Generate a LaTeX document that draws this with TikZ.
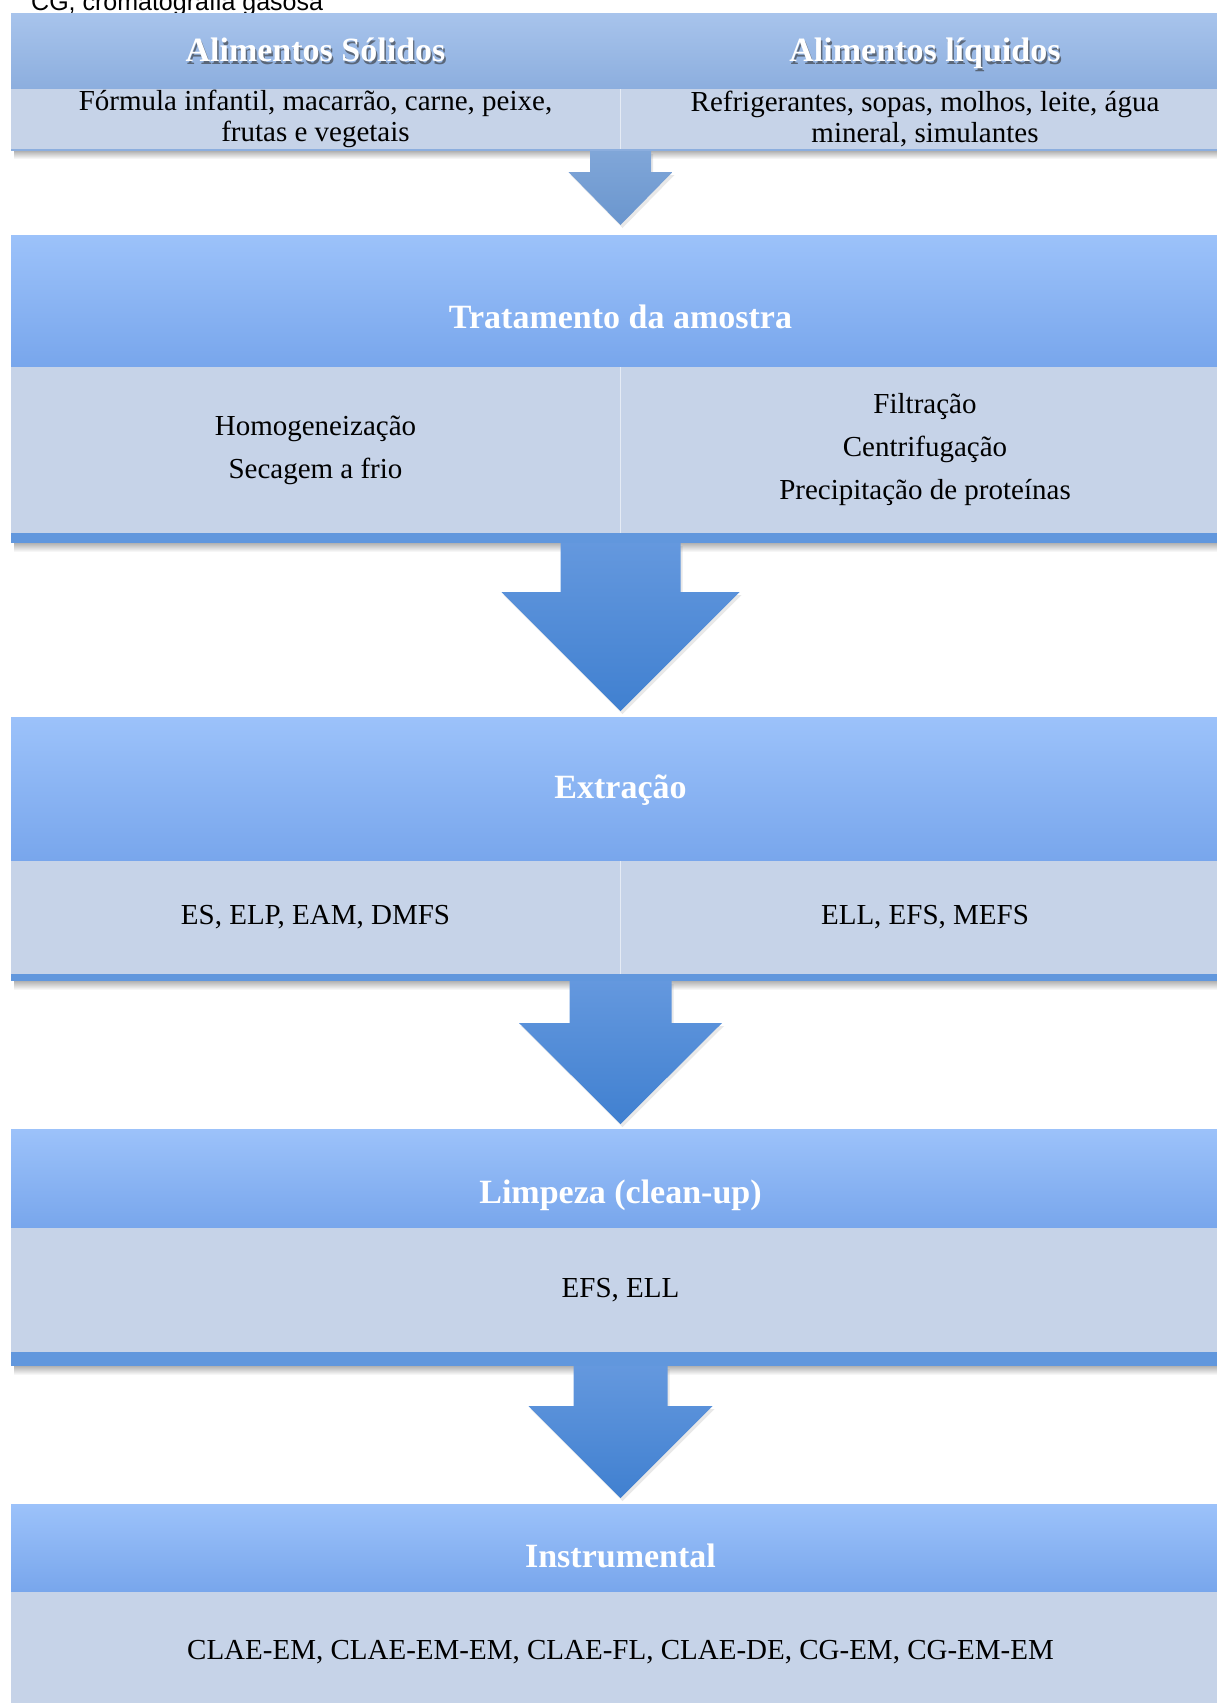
\documentclass[tikz,border=0pt]{standalone}
\usepackage{fontspec}
\setmainfont{Liberation Serif}
\newfontfamily\capfont{Liberation Sans}
\usetikzlibrary{positioning, calc, shadows}

\definecolor{hdrtop}{HTML}{9CC2FA}
\definecolor{hdrbot}{HTML}{78A6EC}
\definecolor{firsttop}{HTML}{A8C4EC}
\definecolor{firstbot}{HTML}{8CAEDE}
\definecolor{cntfill}{HTML}{C6D3E8}
\definecolor{barfill}{HTML}{6197DD}
\definecolor{arrtop}{HTML}{6498DE}
\definecolor{arrbot}{HTML}{4080D0}
\definecolor{firstarrtop}{HTML}{80A6D8}
\definecolor{firstarrbot}{HTML}{6A96CE}

\begin{document}
\begin{tikzpicture}[x=1pt, y=1pt, node distance=0pt,
        hdr/.style={rectangle, inner sep=0pt, outer sep=0pt, minimum width=1219pt, top color=hdrtop, bottom color=hdrbot},
        hdrfirst/.style={rectangle, inner sep=0pt, outer sep=0pt, minimum height=76pt, top color=firsttop, bottom color=firstbot},
        cnt/.style={rectangle, inner sep=0pt, outer sep=0pt, fill=cntfill, align=center, font=\fontsize{29}{31}\selectfont},
        bar/.style={rectangle, inner sep=0pt, outer sep=0pt, minimum width=1219pt, fill=barfill},
        title/.style={inner sep=0pt, text height=24pt, text depth=2pt, text=white, font=\bfseries\fontsize{34}{40}\selectfont},
        titleshadow/.style={inner sep=0pt, text height=24pt, text depth=2pt, text=black!80, opacity=0.6, font=\bfseries\fontsize{34}{40}\selectfont},
        divider/.style={draw=white!55!cntfill, line width=1pt},
        undershadow/.style={top color=black!30, bottom color=white},
        flow/.style={top color=arrtop, bottom color=arrbot, drop shadow={opacity=0.18, shadow xshift=2pt, shadow yshift=-3pt}},
        flowfirst/.style={top color=firstarrtop, bottom color=firstarrbot, drop shadow={opacity=0.18, shadow xshift=2pt, shadow yshift=-3pt}}]

    \useasboundingbox (0,0) rectangle (1217,-1703);

    \node (cap) [anchor=base west, inner sep=0pt, font=\capfont\fontsize{25}{30}\selectfont] at (31,-10) {CG, cromatografia gasosa};

    % Alimentos
    \node (hdrSol) [hdrfirst, minimum width=609pt, anchor=north west] at (11,-13) {};
    \node (hdrLiq) [hdrfirst, minimum width=610pt, right=of hdrSol] {};
    \node (shSol) [titleshadow] at ([xshift=1.5pt, yshift=-2pt]hdrSol.center) {Alimentos Sólidos};
    \node (shLiq) [titleshadow] at ([xshift=1.5pt, yshift=-2pt]hdrLiq.center) {Alimentos líquidos};
    \node (ttlSol) [title] at ([yshift=1pt]hdrSol.center) {Alimentos Sólidos};
    \node (ttlLiq) [title] at ([yshift=1pt]hdrLiq.center) {Alimentos líquidos};
    \node (cntSol) [cnt, minimum width=609pt, minimum height=60pt, below=of hdrSol] {Fórmula infantil, macarrão, carne, peixe,\\frutas e vegetais};
    \node (cntLiq) [cnt, minimum width=610pt, minimum height=60pt, below=of hdrLiq] {Refrigerantes, sopas, molhos, leite, água\\mineral, simulantes};
    \draw [divider] (cntSol.north east) -- (cntSol.south east);
    \node (bar1) [bar, minimum height=2pt, fill=firstbot, anchor=north west] at (cntSol.south west) {};
    \shade [undershadow] ([xshift=3pt]bar1.south west) rectangle ([yshift=-8pt]bar1.south east);

    % Tratamento da amostra
    \node (hdrTrat) [hdr, minimum height=132pt, below=84pt of bar1] {};
    \node (ttlTrat) [title] at ([yshift=-16pt]hdrTrat.center) {Tratamento da amostra};
    \node (cntHom) [cnt, minimum width=609pt, minimum height=166pt, anchor=north west, font=\fontsize{29}{43}\selectfont] at (hdrTrat.south west) {Homogeneização\\Secagem a frio};
    \node (cntFil) [cnt, minimum width=610pt, minimum height=166pt, right=of cntHom, font=\fontsize{29}{43}\selectfont] {Filtração\\Centrifugação\\Precipitação de proteínas};
    \draw [divider] (cntHom.north east) -- (cntHom.south east);
    \node (bar2) [bar, minimum height=10pt, anchor=north west] at (cntHom.south west) {};
    \shade [undershadow] ([xshift=3pt]bar2.south west) rectangle ([yshift=-9pt]bar2.south east);

    % Extracao
    \node (hdrExt) [hdr, minimum height=144pt, below=174pt of bar2] {};
    \node (ttlExt) [title] at ([yshift=2pt]hdrExt.center) {Extração};
    \node (cntExtS) [cnt, minimum width=609pt, minimum height=113pt, anchor=north west] at (hdrExt.south west) {ES, ELP, EAM, DMFS};
    \node (cntExtL) [cnt, minimum width=610pt, minimum height=113pt, right=of cntExtS] {ELL, EFS, MEFS};
    \draw [divider] (cntExtS.north east) -- (cntExtS.south east);
    \node (bar3) [bar, minimum height=7pt, anchor=north west] at (cntExtS.south west) {};
    \shade [undershadow] ([xshift=3pt]bar3.south west) rectangle ([yshift=-9pt]bar3.south east);

    % Limpeza
    \node (hdrLimp) [hdr, minimum height=99pt, below=148pt of bar3] {};
    \node (ttlLimp) [title] at ([yshift=-14pt]hdrLimp.center) {Limpeza (clean-up)};
    \node (cntLimp) [cnt, minimum width=1219pt, minimum height=124pt, below=of hdrLimp] {EFS, ELL};
    \node (bar4) [bar, minimum height=14pt, below=of cntLimp] {};
    \shade [undershadow] ([xshift=3pt]bar4.south west) rectangle ([yshift=-9pt]bar4.south east);

    % Instrumental
    \node (hdrInst) [hdr, minimum height=88pt, below=138pt of bar4] {};
    \node (ttlInst) [title] at ([yshift=-8pt]hdrInst.center) {Instrumental};
    \node (cntInst) [cnt, minimum width=1219pt, minimum height=120pt, below=of hdrInst] {CLAE-EM, CLAE-EM-EM, CLAE-FL, CLAE-DE, CG-EM, CG-EM-EM};

    % Block arrows
    \shade [flowfirst] ($(bar1.south)+(-30.5,0)$) -- ($(bar1.south)+(30.5,0)$) -- ($(hdrTrat.north)+(30.5,63)$) -- ($(hdrTrat.north)+(52,63)$) -- ($(hdrTrat.north)+(0,10)$) -- ($(hdrTrat.north)+(-52,63)$) -- ($(hdrTrat.north)+(-30.5,63)$) -- cycle;
    \shade [flow] ($(bar2.south)+(-60,0)$) -- ($(bar2.south)+(60,0)$) -- ($(hdrExt.north)+(60,125)$) -- ($(hdrExt.north)+(119,125)$) -- ($(hdrExt.north)+(0,6)$) -- ($(hdrExt.north)+(-119,125)$) -- ($(hdrExt.north)+(-60,125)$) -- cycle;
    \shade [flow] ($(bar3.south)+(-51,0)$) -- ($(bar3.south)+(51,0)$) -- ($(hdrLimp.north)+(51,106)$) -- ($(hdrLimp.north)+(101.5,106)$) -- ($(hdrLimp.north)+(0,5)$) -- ($(hdrLimp.north)+(-101.5,106)$) -- ($(hdrLimp.north)+(-51,106)$) -- cycle;
    \shade [flow] ($(bar4.south)+(-47,0)$) -- ($(bar4.south)+(47,0)$) -- ($(hdrInst.north)+(47,98)$) -- ($(hdrInst.north)+(92,98)$) -- ($(hdrInst.north)+(0,6)$) -- ($(hdrInst.north)+(-92,98)$) -- ($(hdrInst.north)+(-47,98)$) -- cycle;

\end{tikzpicture}
\end{document}
